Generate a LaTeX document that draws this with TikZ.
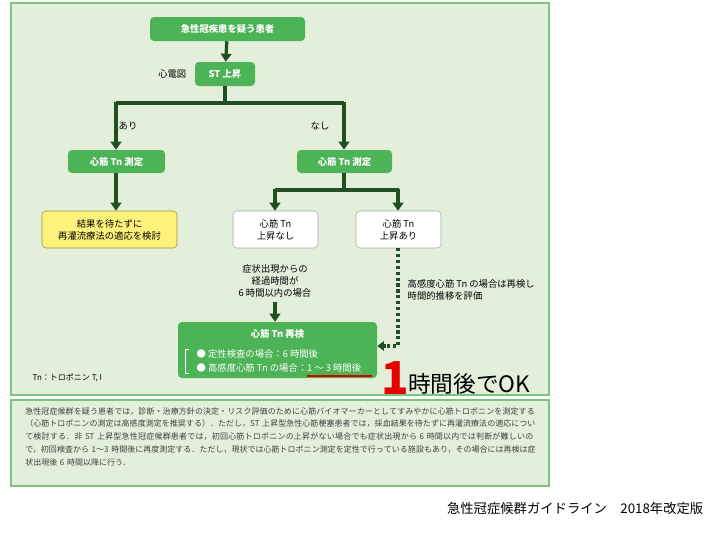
\documentclass[tikz,border=0pt]{standalone}
\usepackage{fontspec}
\setmainfont{Noto Sans CJK JP}
\XeTeXlinebreaklocale "ja"
\XeTeXlinebreakskip=0pt plus 1pt
\usetikzlibrary{arrows.meta}
\definecolor{pan}{HTML}{E3EFDA}
\definecolor{panb}{HTML}{7CC47A}
\definecolor{gbox}{HTML}{4DB357}
\definecolor{dk}{HTML}{1F4F22}
\definecolor{yel}{HTML}{FFF27A}
\begin{document}
\begin{tikzpicture}[x=0.75pt,y=-0.75pt,
 gn/.style={fill=gbox,rounded corners=3pt,text=white,font=\bfseries\fontsize{7}{9}\selectfont,align=center,inner sep=0pt},
 wn/.style={fill=white,draw=gray!70,rounded corners=3pt,font=\fontsize{7}{9}\selectfont,align=center,inner sep=0pt},
 ln/.style={draw=dk,line width=2.4pt},
 ar/.style={ln,-{Triangle[length=6pt,width=8pt]}},
 lab/.style={font=\fontsize{7}{9}\selectfont,align=center}]
\useasboundingbox (0,0) rectangle (720,540);
\fill[white] (0,0) rectangle (720,540);
\draw[panb,fill=pan,line width=1pt] (11,3) rectangle (549,395);
\draw[panb,fill=pan,line width=1pt] (11,400) rectangle (549,486);
\node[gn,minimum width=116.25pt,minimum height=18pt] (a) at (227.5,29) {急性冠疾患を疑う患者};
\node[gn,minimum width=45pt,minimum height=18pt] (st) at (225,74) {ST 上昇};
\node[lab,anchor=east] (ecg) at (191,74) {心電図};
\node[gn,minimum width=72.75pt,minimum height=17.25pt] (l1) at (116.5,161.5) {心筋 Tn 測定};
\node[gn,minimum width=71.25pt,minimum height=17.25pt] (r1) at (344.5,161.5) {心筋 Tn 測定};
\node[fill=yel,draw=yel!60!black,rounded corners=3pt,minimum width=101.25pt,minimum height=27.75pt,inner sep=0pt,font=\fontsize{7}{9}\selectfont,align=center] (y) at (109.5,229.5) {結果を待たずに\\再灌流療法の適応を検討};
\node[wn,minimum width=63.75pt,minimum height=27.75pt] (n) at (275.5,229.5) {心筋 Tn\\上昇なし};
\node[wn,minimum width=63.75pt,minimum height=27.75pt] (p) at (398.5,229.5) {心筋 Tn\\上昇あり};
\node[lab] (t) at (275,281) {症状出現からの\\経過時間が\\6 時間以内の場合};
\node[gn,minimum width=149.25pt,minimum height=42pt] (re) at (277.5,350) {};
\node[text=white,font=\bfseries\fontsize{7}{9}\selectfont] (ret) at (277.5,334) {心筋 Tn 再検};
\node[text=white,font=\fontsize{7}{9}\selectfont,anchor=west,align=left] (b1) at (192,354) {● 定性検査の場合：6 時間後};
\node[text=white,font=\fontsize{7}{9}\selectfont,anchor=west,align=left] (b2) at (192,368) {● 高感度心筋 Tn の場合：1 ～ 3 時間後};
\draw[white,line width=0.5pt] (189,349) -- (185,349) -- (185,373) -- (189,373);
\draw[red!85!black,line width=1.3pt] (307,376) -- (372,376);
\node[lab,anchor=west,align=left] (hs) at (403,290) {高感度心筋 Tn の場合は再検し\\時間的推移を評価};
\node[font=\fontsize{6}{8}\selectfont,anchor=west] (tn) at (28,378) {Tn：トロポニン T, I};
\node[lab] (ya) at (128,126) {あり};
\node[lab] (na) at (320,126) {なし};
\draw[ar] (a) -- (st);
\draw[ln] (st.south) -- (225,103);
\draw[ln] (116,103) -- (344,103);
\draw[ar] (116,102) -- (l1.north -| 116,0);
\draw[ar] (344,102) -- (r1.north -| 344,0);
\draw[ar] (l1.south -| 116,0) -- (y.north -| 116,0);
\draw[ln] (r1.south -| 344,0) -- (344,190);
\draw[ln] (275,190) -- (399,190);
\draw[ar] (275,189) -- (n.north -| 275,0);
\draw[ar] (398,189) -- (p.north -| 398,0);
\draw[ar] (t.south -| 275,0) -- (re.north -| 275,0);
\draw[dk,line width=2.4pt,dotted] (p.south -| 398,0) -- (398,346) -- (386,346);
\draw[dk,line width=2.4pt,-{Triangle[length=5pt,width=7pt]}] (386,346) -- (re.east |- 0,346);
\node[text=red!90!black,font=\bfseries\fontsize{34}{34}\selectfont,anchor=base] (one) at (395,394) {1};
\node[font=\fontsize{17}{20}\selectfont,anchor=base west,inner sep=0pt] (ok) at (408,392) {時間後でOK};
\node[font=\fontsize{6}{9.6}\selectfont,text=black!75,align=left,anchor=north west,text width=383pt,inner sep=0pt] (body) at (25,407) {急性冠症候群を疑う患者では，診断・治療方針の決定・リスク評価のために心筋バイオマーカーとしてすみやかに心筋トロポニンを測定する（心筋トロポニンの測定は高感度測定を推奨する）．ただし，ST 上昇型急性心筋梗塞患者では，採血結果を待たずに再灌流療法の適応について検討する．非 ST 上昇型急性冠症候群患者では，初回心筋トロポニンの上昇がない場合でも症状出現から 6 時間以内では判断が難しいので，初回検査から 1～3 時間後に再度測定する．ただし，現状では心筋トロポニン測定を定性で行っている施設もあり，その場合には再検は症状出現後 6 時間以降に行う．};
\node[font=\fontsize{10}{12}\selectfont,anchor=east] (src) at (708,508) {急性冠症候群ガイドライン　2018年改定版};
\end{tikzpicture}
\end{document}
